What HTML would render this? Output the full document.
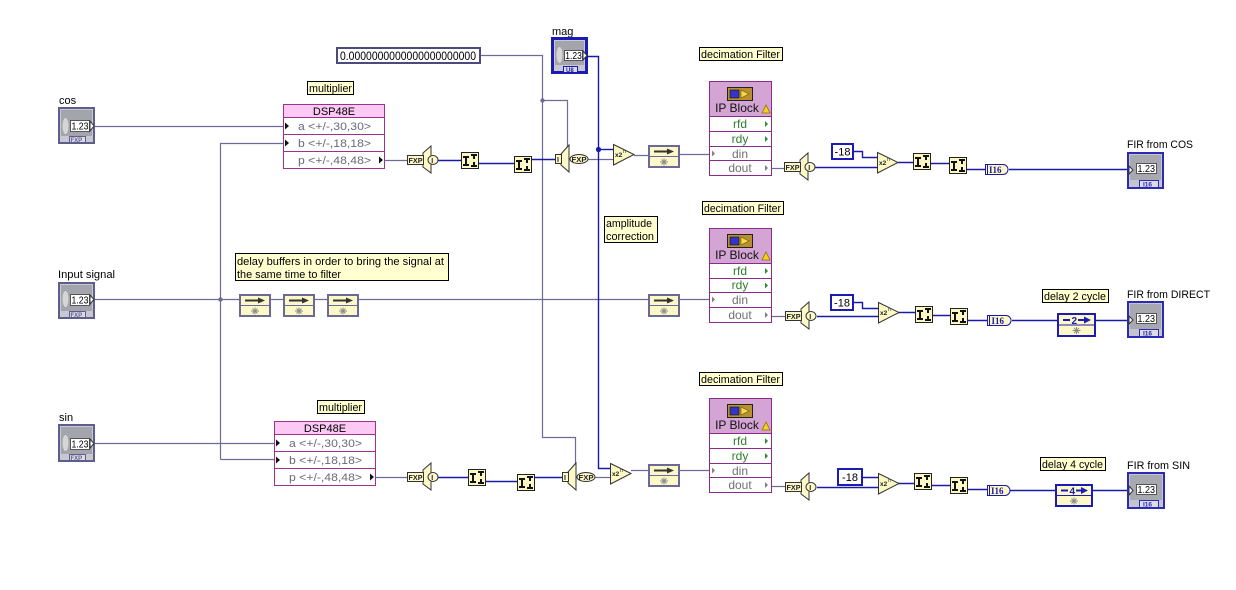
<!DOCTYPE html>
<html><head><meta charset="utf-8">
<style>
html,body{margin:0;padding:0;background:#fff;}
svg{display:block;font-family:"Liberation Sans",sans-serif;}
.g{fill:none;stroke:#6c6c96;stroke-width:1.2}
.b{fill:none;stroke:#1a1aa8;stroke-width:1.4}
.cm{fill:#ffffd0;stroke:#000;stroke-width:1}
.t11{font-size:11px;fill:#000}
.ico{fill:#fcf8c4;stroke:#222;stroke-width:1}
.k{fill:#111}
.dl{fill:#fcf8c8;stroke:#6a6a98;stroke-width:2}
.dlb{fill:#fcf8c8;stroke:#1c1cb4;stroke-width:2}
.ast{stroke:#8a8a8a;stroke-width:1}
.ip{fill:#fff;stroke:#8a2a8a;stroke-width:1}
.iph{fill:#d4a4d4;stroke:#8a2a8a;stroke-width:1}
.dsp{fill:#fff;stroke:#a0308c;stroke-width:1}
.dsph{fill:#fcc8f4;stroke:#a0308c;stroke-width:1}
.dt{font-size:11px;fill:#6a6a7a}
.grn{font-size:12px;fill:#2e7d2e}
.gry{font-size:12px;fill:#707070}
.c18{fill:#fff;stroke:#1c1cb4;stroke-width:2}
.cv{fill:#fcf8c8;stroke:#333;stroke-width:1}
.cvt{font-size:7px;font-weight:bold;fill:#222}
.i16{fill:#fcf8c8;stroke:#1a1aa6;stroke-width:1}
.i16t{font-family:"Liberation Serif",serif;font-size:9px;font-weight:bold;fill:#1a1aa6}
</style></head><body>
<svg width="1236" height="590" viewBox="0 0 1236 590" xmlns="http://www.w3.org/2000/svg">
<rect x="0" y="0" width="1236" height="590" fill="#fff"/>

<!-- ============ WIRES (gray) ============ -->
<path class="g" d="M95,126.5 H284"/>
<path class="g" d="M220.5,459.5 V143.5 H284"/>
<path class="g" d="M220.5,459.5 H275"/>
<path class="g" d="M95,299.5 H239 M270,299.5 H283 M314,299.5 H327 M358,299.5 H648 M680,299.5 H709"/>
<path class="g" d="M95,443.5 H275"/>
<path class="g" d="M385,160.5 H407"/>
<path class="g" d="M375,477.5 H407"/>
<path class="g" d="M480,55.5 H542.5 V437.5 H575.5 V464"/>
<path class="g" d="M542.5,100.5 H567.5 V148"/>
<path class="g" d="M588,159.5 H614"/>
<path class="g" d="M634,155.5 H648 M680,154.5 H709"/>
<path class="g" d="M771,168.5 H785"/>
<path class="g" d="M771,316.5 H785"/>
<path class="g" d="M595,477.5 H611"/>
<path class="g" d="M631,470.5 H648 M680,470.5 H709"/>
<path class="g" d="M771,486.5 H786"/>

<!-- ============ WIRES (blue) ============ -->
<path class="b" d="M438,160.5 H462 M478,163.5 H515 M532,159.5 H556"/>
<path class="b" d="M588,56.5 H598.5 V468.5 H612"/>
<path class="b" d="M598.5,149.5 H614"/>
<path class="b" d="M812,167.5 H878 M853,151.5 H862.5 V157.5 H878 M898,162.5 H914 M931,163.5 H950 M967,169.5 H986 M1009,169.5 H1128"/>
<path class="b" d="M817,316.5 H879 M853,302.5 H862.5 V308.5 H879 M899,312.5 H916 M933,315.5 H951 M967,320.5 H988 M1012,320.5 H1058 M1096,320.5 H1128"/>
<path class="b" d="M438,477.5 H469 M486,481.5 H518 M535,477.5 H563"/>
<path class="b" d="M817,487.5 H879 M862,477.5 H879 M898,483.5 H915 M932,485.5 H951 M967,489.5 H988 M1010,490.5 H1056 M1093,490.5 H1128"/>

<!-- junction dots -->
<circle cx="220.5" cy="299.5" r="2.2" fill="#6c6c96"/>
<circle cx="542.5" cy="100.5" r="2.2" fill="#6c6c96"/>
<circle cx="598.5" cy="149.5" r="2.6" fill="#1a1aa8"/>

<!-- ============ LABELS ============ -->
<text x="59" y="104" class="t11">cos</text>
<text x="58" y="278" class="t11" textLength="57" lengthAdjust="spacingAndGlyphs">Input signal</text>
<text x="59" y="421" class="t11">sin</text>
<text x="552" y="35" class="t11">mag</text>
<text x="1127" y="148" class="t11" textLength="66" lengthAdjust="spacingAndGlyphs">FIR from COS</text>
<text x="1127" y="298" class="t11" textLength="83" lengthAdjust="spacingAndGlyphs">FIR from DIRECT</text>
<text x="1127" y="469" class="t11" textLength="63" lengthAdjust="spacingAndGlyphs">FIR from SIN</text>

<!-- ============ COMMENTS ============ -->
<rect class="cm" x="307.5" y="81.5" width="46" height="13"/>
<text x="309" y="92" class="t11" textLength="43" lengthAdjust="spacingAndGlyphs">multiplier</text>
<rect class="cm" x="317.5" y="400.5" width="47" height="13"/>
<text x="319" y="411" class="t11" textLength="43" lengthAdjust="spacingAndGlyphs">multiplier</text>
<rect class="cm" x="699.5" y="47.5" width="83" height="13"/>
<text x="701" y="58" class="t11" textLength="79" lengthAdjust="spacingAndGlyphs">decimation Filter</text>
<rect class="cm" x="702.5" y="201.5" width="81" height="13"/>
<text x="704" y="212" class="t11" textLength="77" lengthAdjust="spacingAndGlyphs">decimation Filter</text>
<rect class="cm" x="699.5" y="372.5" width="83" height="13"/>
<text x="701" y="383" class="t11" textLength="79" lengthAdjust="spacingAndGlyphs">decimation Filter</text>
<rect class="cm" x="604.5" y="216.5" width="53" height="26"/>
<text x="606" y="227" class="t11" textLength="46" lengthAdjust="spacingAndGlyphs">amplitude</text>
<text x="606" y="240" class="t11" textLength="48" lengthAdjust="spacingAndGlyphs">correction</text>
<rect class="cm" x="235.5" y="253.5" width="213" height="27"/>
<text x="237" y="265" class="t11" textLength="207" lengthAdjust="spacingAndGlyphs">delay buffers in order to bring the signal at</text>
<text x="237" y="278" class="t11" textLength="104" lengthAdjust="spacingAndGlyphs">the same time to filter</text>
<rect class="cm" x="1042.5" y="289.5" width="66" height="13"/>
<text x="1044" y="300" class="t11" textLength="62" lengthAdjust="spacingAndGlyphs">delay 2 cycle</text>
<rect class="cm" x="1040.5" y="457.5" width="65" height="13"/>
<text x="1042" y="468" class="t11" textLength="61" lengthAdjust="spacingAndGlyphs">delay 4 cycle</text>

<!-- numeric constant -->
<rect x="337" y="48" width="143" height="15" fill="#fff" stroke="#4a4a7c" stroke-width="2"/>
<text x="340" y="60" font-size="12" fill="#000" textLength="136" lengthAdjust="spacingAndGlyphs">0.0000000000000000000000</text>

<!-- ============ CONTROLS ============ -->
<g transform="translate(58,107)">
 <rect x="1" y="1" width="35" height="35" fill="#c8c8d0" stroke="#5e5e8e" stroke-width="2"/>
 <rect x="3" y="3" width="31" height="26" fill="#a4a4ac"/>
 <ellipse cx="7.5" cy="19" rx="3" ry="8" fill="#d6d6d6"/>
 <rect x="12.5" y="13.5" width="19" height="11" fill="#fff" stroke="#555"/>
 <text x="13.5" y="22.5" font-size="10" fill="#000" textLength="17" lengthAdjust="spacingAndGlyphs">1.23</text>
 <path d="M32,14 L36,19 L32,24 Z" fill="#fff" stroke="#333"/>
 <rect x="11.5" y="29.5" width="16" height="6" fill="#dcdce4" stroke="#5e5e8e"/>
 <text x="12.5" y="35" font-size="6" font-weight="bold" fill="#5e5e8e">FXP</text>
</g>
<g transform="translate(58,282)">
 <rect x="1" y="1" width="35" height="35" fill="#c8c8d0" stroke="#5e5e8e" stroke-width="2"/>
 <rect x="3" y="3" width="31" height="26" fill="#a4a4ac"/>
 <ellipse cx="7.5" cy="17" rx="3" ry="8" fill="#d6d6d6"/>
 <rect x="12.5" y="12.5" width="19" height="11" fill="#fff" stroke="#555"/>
 <text x="13.5" y="21.5" font-size="10" fill="#000" textLength="17" lengthAdjust="spacingAndGlyphs">1.23</text>
 <path d="M32,13 L36,17.5 L32,22 Z" fill="#fff" stroke="#333"/>
 <rect x="11.5" y="29.5" width="16" height="6" fill="#dcdce4" stroke="#5e5e8e"/>
 <text x="12.5" y="35" font-size="6" font-weight="bold" fill="#5e5e8e">FXP</text>
</g>
<g transform="translate(58,424)">
 <rect x="1" y="1" width="35" height="36" fill="#c8c8d0" stroke="#5e5e8e" stroke-width="2"/>
 <rect x="3" y="3" width="31" height="27" fill="#a4a4ac"/>
 <ellipse cx="7.5" cy="19" rx="3" ry="8" fill="#d6d6d6"/>
 <rect x="12.5" y="14.5" width="19" height="11" fill="#fff" stroke="#555"/>
 <text x="13.5" y="23.5" font-size="10" fill="#000" textLength="17" lengthAdjust="spacingAndGlyphs">1.23</text>
 <path d="M32,15 L36,19.5 L32,24 Z" fill="#fff" stroke="#333"/>
 <rect x="11.5" y="30.5" width="16" height="6" fill="#dcdce4" stroke="#5e5e8e"/>
 <text x="12.5" y="36" font-size="6" font-weight="bold" fill="#5e5e8e">FXP</text>
</g>
<!-- mag -->
<g transform="translate(551,37)">
 <rect x="1.5" y="1.5" width="34" height="34" fill="#c8c8d0" stroke="#1c1cb4" stroke-width="3"/>
 <rect x="4" y="4" width="29" height="24" fill="#a4a4ac"/>
 <ellipse cx="8.5" cy="18" rx="3" ry="8" fill="#d6d6d6"/>
 <rect x="13.5" y="13.5" width="18" height="10" fill="#fff" stroke="#555"/>
 <text x="14.3" y="22" font-size="10" fill="#000" textLength="16.5" lengthAdjust="spacingAndGlyphs">1.23</text>
 <path d="M32,14 L36,18.5 L32,23 Z" fill="#fff" stroke="#333"/>
 <rect x="12.5" y="29.5" width="14" height="6" fill="#dcdce4" stroke="#1c1cb4"/>
 <text x="15" y="35" font-size="6" font-weight="bold" fill="#1c1cb4">U8</text>
</g>

<!-- ============ INDICATORS ============ -->
<g transform="translate(1127,152)">
 <rect x="1" y="1" width="35" height="35" fill="#c4c4cc" stroke="#2a2ab4" stroke-width="2"/>
 <rect x="3" y="3" width="31" height="25" fill="#a8a8b0"/>
 <path d="M2,14 L6,18 L2,22 Z" fill="#fff" stroke="#333"/>
 <rect x="9.5" y="11.5" width="20" height="10" fill="#fff" stroke="#555"/>
 <text x="10.5" y="20" font-size="10" fill="#000" textLength="17.5" lengthAdjust="spacingAndGlyphs">1.23</text>
 <rect x="12.5" y="28.5" width="19" height="7" fill="#dcdce4" stroke="#2a2ab4"/>
 <text x="16" y="34.5" font-size="6.5" font-weight="bold" fill="#2a2ab4">I16</text>
</g>
<g transform="translate(1127,301)">
 <rect x="1" y="1" width="35" height="35" fill="#c4c4cc" stroke="#2a2ab4" stroke-width="2"/>
 <rect x="3" y="3" width="31" height="25" fill="#a8a8b0"/>
 <path d="M2,15 L6,19 L2,23 Z" fill="#fff" stroke="#333"/>
 <rect x="9.5" y="12.5" width="20" height="10" fill="#fff" stroke="#555"/>
 <text x="10.5" y="21" font-size="10" fill="#000" textLength="17.5" lengthAdjust="spacingAndGlyphs">1.23</text>
 <rect x="12.5" y="28.5" width="19" height="7" fill="#dcdce4" stroke="#2a2ab4"/>
 <text x="16" y="34.5" font-size="6.5" font-weight="bold" fill="#2a2ab4">I16</text>
</g>
<g transform="translate(1127,472)">
 <rect x="1" y="1" width="36" height="35" fill="#c4c4cc" stroke="#2a2ab4" stroke-width="2"/>
 <rect x="3" y="3" width="32" height="25" fill="#a8a8b0"/>
 <path d="M2,14 L6,18.5 L2,23 Z" fill="#fff" stroke="#333"/>
 <rect x="9.5" y="12.5" width="20" height="10" fill="#fff" stroke="#555"/>
 <text x="10.5" y="21" font-size="10" fill="#000" textLength="17.5" lengthAdjust="spacingAndGlyphs">1.23</text>
 <rect x="12.5" y="28.5" width="19" height="7" fill="#dcdce4" stroke="#2a2ab4"/>
 <text x="16" y="34.5" font-size="6.5" font-weight="bold" fill="#2a2ab4">I16</text>
</g>

<!-- ============ DSP48E ============ -->
<g>
 <rect class="dsph" x="283.5" y="104.5" width="101" height="13"/>
 <rect class="dsp" x="283.5" y="117.5" width="101" height="17"/>
 <rect class="dsp" x="283.5" y="134.5" width="101" height="17"/>
 <rect class="dsp" x="283.5" y="151.5" width="101" height="17"/>
 <text x="334" y="115" font-size="11" text-anchor="middle" fill="#000">DSP48E</text>
 <text x="298" y="130" class="dt" textLength="73" lengthAdjust="spacingAndGlyphs">a &lt;+/-,30,30&gt;</text>
 <text x="298" y="147" class="dt" textLength="73" lengthAdjust="spacingAndGlyphs">b &lt;+/-,18,18&gt;</text>
 <text x="298" y="164" class="dt" textLength="73" lengthAdjust="spacingAndGlyphs">p &lt;+/-,48,48&gt;</text>
 <path d="M285,122.5 L289,126 L285,129.5 Z" fill="#111"/>
 <path d="M285,139.5 L289,143 L285,146.5 Z" fill="#111"/>
 <path d="M379,156.5 L383,160 L379,163.5 Z" fill="#111"/>
</g>
<g>
 <rect class="dsph" x="274.5" y="421.5" width="101" height="13"/>
 <rect class="dsp" x="274.5" y="434.5" width="101" height="17"/>
 <rect class="dsp" x="274.5" y="451.5" width="101" height="17"/>
 <rect class="dsp" x="274.5" y="468.5" width="101" height="17"/>
 <text x="325" y="432" font-size="11" text-anchor="middle" fill="#000">DSP48E</text>
 <text x="289" y="447" class="dt" textLength="73" lengthAdjust="spacingAndGlyphs">a &lt;+/-,30,30&gt;</text>
 <text x="289" y="464" class="dt" textLength="73" lengthAdjust="spacingAndGlyphs">b &lt;+/-,18,18&gt;</text>
 <text x="289" y="481" class="dt" textLength="73" lengthAdjust="spacingAndGlyphs">p &lt;+/-,48,48&gt;</text>
 <path d="M276,439.5 L280,443 L276,446.5 Z" fill="#111"/>
 <path d="M276,456.5 L280,460 L276,463.5 Z" fill="#111"/>
 <path d="M370,473.5 L374,477 L370,480.5 Z" fill="#111"/>
</g>

<!-- ============ IP BLOCKS ============ -->
<g transform="translate(709,81)">
 <rect class="iph" x="0.5" y="0.5" width="62" height="35"/>
 <rect class="ip" x="0.5" y="35.5" width="62" height="15"/>
 <rect class="ip" x="0.5" y="50.5" width="62" height="15"/>
 <rect class="ip" x="0.5" y="65.5" width="62" height="14"/>
 <rect class="ip" x="0.5" y="79.5" width="62" height="15"/>
 <rect x="18.5" y="6.5" width="25" height="13" fill="#b89030" stroke="#222"/>
 <rect x="21" y="9" width="9" height="8" fill="#3434c8" stroke="#111" stroke-width="0.6"/>
 <path d="M32,9 L40,13 L32,17 Z" fill="#f4d848" stroke="#6a5010" stroke-width="0.6"/>
 <text x="28" y="31" font-size="12" text-anchor="middle" fill="#111">IP Block</text>
 <path d="M57,24 L61,32 L53,32 Z" fill="#f4d020" stroke="#907000" stroke-width="0.8"/>
 <text x="31" y="47" class="grn" text-anchor="middle">rfd</text>
 <text x="31" y="62" class="grn" text-anchor="middle">rdy</text>
 <text x="31" y="77" class="gry" text-anchor="middle">din</text>
 <text x="31" y="91" class="gry" text-anchor="middle">dout</text>
 <path d="M56,40 L59,43 L56,46 Z" fill="#2e8b2e"/>
 <path d="M56,55 L59,58 L56,61 Z" fill="#2e8b2e"/>
 <path d="M3,69.5 L6,72.5 L3,75.5 Z" fill="#808080"/>
 <path d="M56,84 L59,87 L56,90 Z" fill="#808080"/>
</g>
<g transform="translate(709,228)">
 <rect class="iph" x="0.5" y="0.5" width="62" height="35"/>
 <rect class="ip" x="0.5" y="35.5" width="62" height="15"/>
 <rect class="ip" x="0.5" y="50.5" width="62" height="14"/>
 <rect class="ip" x="0.5" y="64.5" width="62" height="15"/>
 <rect class="ip" x="0.5" y="79.5" width="62" height="15"/>
 <rect x="18.5" y="6.5" width="25" height="13" fill="#b89030" stroke="#222"/>
 <rect x="21" y="9" width="9" height="8" fill="#3434c8" stroke="#111" stroke-width="0.6"/>
 <path d="M32,9 L40,13 L32,17 Z" fill="#f4d848" stroke="#6a5010" stroke-width="0.6"/>
 <text x="28" y="31" font-size="12" text-anchor="middle" fill="#111">IP Block</text>
 <path d="M57,24 L61,32 L53,32 Z" fill="#f4d020" stroke="#907000" stroke-width="0.8"/>
 <text x="31" y="47" class="grn" text-anchor="middle">rfd</text>
 <text x="31" y="61" class="grn" text-anchor="middle">rdy</text>
 <text x="31" y="76" class="gry" text-anchor="middle">din</text>
 <text x="31" y="91" class="gry" text-anchor="middle">dout</text>
 <path d="M56,40 L59,43 L56,46 Z" fill="#2e8b2e"/>
 <path d="M56,54.5 L59,57.5 L56,60.5 Z" fill="#2e8b2e"/>
 <path d="M3,68.5 L6,71.5 L3,74.5 Z" fill="#808080"/>
 <path d="M56,84 L59,87 L56,90 Z" fill="#808080"/>
</g>
<g transform="translate(709,398)">
 <rect class="iph" x="0.5" y="0.5" width="62" height="35"/>
 <rect class="ip" x="0.5" y="35.5" width="62" height="15"/>
 <rect class="ip" x="0.5" y="50.5" width="62" height="15"/>
 <rect class="ip" x="0.5" y="65.5" width="62" height="14"/>
 <rect class="ip" x="0.5" y="79.5" width="62" height="15"/>
 <rect x="18.5" y="6.5" width="25" height="13" fill="#b89030" stroke="#222"/>
 <rect x="21" y="9" width="9" height="8" fill="#3434c8" stroke="#111" stroke-width="0.6"/>
 <path d="M32,9 L40,13 L32,17 Z" fill="#f4d848" stroke="#6a5010" stroke-width="0.6"/>
 <text x="28" y="31" font-size="12" text-anchor="middle" fill="#111">IP Block</text>
 <path d="M57,24 L61,32 L53,32 Z" fill="#f4d020" stroke="#907000" stroke-width="0.8"/>
 <text x="31" y="47" class="grn" text-anchor="middle">rfd</text>
 <text x="31" y="62" class="grn" text-anchor="middle">rdy</text>
 <text x="31" y="77" class="gry" text-anchor="middle">din</text>
 <text x="31" y="91" class="gry" text-anchor="middle">dout</text>
 <path d="M56,40 L59,43 L56,46 Z" fill="#2e8b2e"/>
 <path d="M56,55 L59,58 L56,61 Z" fill="#2e8b2e"/>
 <path d="M3,69.5 L6,72.5 L3,75.5 Z" fill="#808080"/>
 <path d="M56,84 L59,87 L56,90 Z" fill="#808080"/>
</g>

<!-- ============ FXP -> I converters ============ -->
<g transform="translate(407,160)">
 <path class="cv" d="M16,-7 L24,-14 L24,13 L16,7 Z"/>
 <rect class="cv" x="0.5" y="-4.5" width="16" height="9"/>
 <text x="1.5" y="3" class="cvt" textLength="14" lengthAdjust="spacingAndGlyphs">FXP</text>
 <ellipse class="cv" cx="26" cy="0" rx="5" ry="4.5"/>
 <text x="24.3" y="3" class="cvt">I</text>
</g>
<g transform="translate(407,477)">
 <path class="cv" d="M16,-7 L24,-14 L24,13 L16,7 Z"/>
 <rect class="cv" x="0.5" y="-4.5" width="16" height="9"/>
 <text x="1.5" y="3" class="cvt" textLength="14" lengthAdjust="spacingAndGlyphs">FXP</text>
 <ellipse class="cv" cx="26" cy="0" rx="5" ry="4.5"/>
 <text x="24.3" y="3" class="cvt">I</text>
</g>
<g transform="translate(784,167)">
 <path class="cv" d="M16,-7 L24,-14 L24,13 L16,7 Z"/>
 <rect class="cv" x="0.5" y="-4.5" width="16" height="9"/>
 <text x="1.5" y="3" class="cvt" textLength="14" lengthAdjust="spacingAndGlyphs">FXP</text>
 <ellipse class="cv" cx="26" cy="0" rx="5" ry="4.5"/>
 <text x="24.3" y="3" class="cvt">I</text>
</g>
<g transform="translate(785,316)">
 <path class="cv" d="M16,-7 L24,-14 L24,13 L16,7 Z"/>
 <rect class="cv" x="0.5" y="-4.5" width="16" height="9"/>
 <text x="1.5" y="3" class="cvt" textLength="14" lengthAdjust="spacingAndGlyphs">FXP</text>
 <ellipse class="cv" cx="26" cy="0" rx="5" ry="4.5"/>
 <text x="24.3" y="3" class="cvt">I</text>
</g>
<g transform="translate(785,487)">
 <path class="cv" d="M16,-7 L24,-14 L24,13 L16,7 Z"/>
 <rect class="cv" x="0.5" y="-4.5" width="16" height="9"/>
 <text x="1.5" y="3" class="cvt" textLength="14" lengthAdjust="spacingAndGlyphs">FXP</text>
 <ellipse class="cv" cx="26" cy="0" rx="5" ry="4.5"/>
 <text x="24.3" y="3" class="cvt">I</text>
</g>

<!-- ============ I -> FXP converters ============ -->
<g transform="translate(555,159)">
 <path class="cv" d="M6,-5 L14,-14 L14,13 L6,6 Z"/>
 <rect class="cv" x="0.5" y="-4.5" width="6" height="9"/>
 <text x="2" y="3" class="cvt">I</text>
 <ellipse class="cv" cx="24" cy="0" rx="9" ry="4.5"/>
 <text x="16.5" y="3" class="cvt" textLength="15" lengthAdjust="spacingAndGlyphs">FXP</text>
</g>
<g transform="translate(562,477)">
 <path class="cv" d="M6,-5 L14,-14 L14,13 L6,6 Z"/>
 <rect class="cv" x="0.5" y="-4.5" width="6" height="9"/>
 <text x="2" y="3" class="cvt">I</text>
 <ellipse class="cv" cx="24" cy="0" rx="9" ry="4.5"/>
 <text x="16.5" y="3" class="cvt" textLength="15" lengthAdjust="spacingAndGlyphs">FXP</text>
</g>

<!-- ============ I-I icons ============ -->
<g transform="translate(461,152)"><rect class="ico" x="0.5" y="0.5" width="17" height="16"/><rect class="k" x="2" y="4" width="6" height="2"/><rect class="k" x="4" y="4" width="2" height="9"/><rect class="k" x="2" y="12" width="6" height="2"/><rect class="k" x="10" y="2" width="6" height="2"/><rect class="k" x="12" y="2" width="2" height="5"/><rect class="k" x="12" y="10" width="2" height="5"/><rect class="k" x="10" y="13" width="6" height="2"/></g>
<g transform="translate(514,156)"><rect class="ico" x="0.5" y="0.5" width="17" height="16"/><rect class="k" x="2" y="4" width="6" height="2"/><rect class="k" x="4" y="4" width="2" height="9"/><rect class="k" x="2" y="12" width="6" height="2"/><rect class="k" x="10" y="2" width="6" height="2"/><rect class="k" x="12" y="2" width="2" height="5"/><rect class="k" x="12" y="10" width="2" height="5"/><rect class="k" x="10" y="13" width="6" height="2"/></g>
<g transform="translate(913,153)"><rect class="ico" x="0.5" y="0.5" width="17" height="16"/><rect class="k" x="2" y="4" width="6" height="2"/><rect class="k" x="4" y="4" width="2" height="9"/><rect class="k" x="2" y="12" width="6" height="2"/><rect class="k" x="10" y="2" width="6" height="2"/><rect class="k" x="12" y="2" width="2" height="5"/><rect class="k" x="12" y="10" width="2" height="5"/><rect class="k" x="10" y="13" width="6" height="2"/></g>
<g transform="translate(949,157)"><rect class="ico" x="0.5" y="0.5" width="17" height="16"/><rect class="k" x="2" y="4" width="6" height="2"/><rect class="k" x="4" y="4" width="2" height="9"/><rect class="k" x="2" y="12" width="6" height="2"/><rect class="k" x="10" y="2" width="6" height="2"/><rect class="k" x="12" y="2" width="2" height="5"/><rect class="k" x="12" y="10" width="2" height="5"/><rect class="k" x="10" y="13" width="6" height="2"/></g>
<g transform="translate(915,306)"><rect class="ico" x="0.5" y="0.5" width="17" height="16"/><rect class="k" x="2" y="4" width="6" height="2"/><rect class="k" x="4" y="4" width="2" height="9"/><rect class="k" x="2" y="12" width="6" height="2"/><rect class="k" x="10" y="2" width="6" height="2"/><rect class="k" x="12" y="2" width="2" height="5"/><rect class="k" x="12" y="10" width="2" height="5"/><rect class="k" x="10" y="13" width="6" height="2"/></g>
<g transform="translate(950,308)"><rect class="ico" x="0.5" y="0.5" width="17" height="16"/><rect class="k" x="2" y="4" width="6" height="2"/><rect class="k" x="4" y="4" width="2" height="9"/><rect class="k" x="2" y="12" width="6" height="2"/><rect class="k" x="10" y="2" width="6" height="2"/><rect class="k" x="12" y="2" width="2" height="5"/><rect class="k" x="12" y="10" width="2" height="5"/><rect class="k" x="10" y="13" width="6" height="2"/></g>
<g transform="translate(468,469)"><rect class="ico" x="0.5" y="0.5" width="17" height="16"/><rect class="k" x="2" y="4" width="6" height="2"/><rect class="k" x="4" y="4" width="2" height="9"/><rect class="k" x="2" y="12" width="6" height="2"/><rect class="k" x="10" y="2" width="6" height="2"/><rect class="k" x="12" y="2" width="2" height="5"/><rect class="k" x="12" y="10" width="2" height="5"/><rect class="k" x="10" y="13" width="6" height="2"/></g>
<g transform="translate(517,474)"><rect class="ico" x="0.5" y="0.5" width="17" height="16"/><rect class="k" x="2" y="4" width="6" height="2"/><rect class="k" x="4" y="4" width="2" height="9"/><rect class="k" x="2" y="12" width="6" height="2"/><rect class="k" x="10" y="2" width="6" height="2"/><rect class="k" x="12" y="2" width="2" height="5"/><rect class="k" x="12" y="10" width="2" height="5"/><rect class="k" x="10" y="13" width="6" height="2"/></g>
<g transform="translate(914,473)"><rect class="ico" x="0.5" y="0.5" width="17" height="16"/><rect class="k" x="2" y="4" width="6" height="2"/><rect class="k" x="4" y="4" width="2" height="9"/><rect class="k" x="2" y="12" width="6" height="2"/><rect class="k" x="10" y="2" width="6" height="2"/><rect class="k" x="12" y="2" width="2" height="5"/><rect class="k" x="12" y="10" width="2" height="5"/><rect class="k" x="10" y="13" width="6" height="2"/></g>
<g transform="translate(950,477)"><rect class="ico" x="0.5" y="0.5" width="17" height="16"/><rect class="k" x="2" y="4" width="6" height="2"/><rect class="k" x="4" y="4" width="2" height="9"/><rect class="k" x="2" y="12" width="6" height="2"/><rect class="k" x="10" y="2" width="6" height="2"/><rect class="k" x="12" y="2" width="2" height="5"/><rect class="k" x="12" y="10" width="2" height="5"/><rect class="k" x="10" y="13" width="6" height="2"/></g>

<!-- ============ x2^n triangles ============ -->
<g transform="translate(613,144)"><path d="M0.5,0.5 L21,10.5 L0.5,21 Z" fill="#fcf8c4" stroke="#333"/><text x="2" y="13" font-size="6.5" font-weight="bold" fill="#222">x2</text><text x="10" y="9" font-size="5" fill="#222">n</text></g>
<g transform="translate(877,152)"><path d="M0.5,0.5 L21,10.5 L0.5,21 Z" fill="#fcf8c4" stroke="#333"/><text x="2" y="13" font-size="6.5" font-weight="bold" fill="#222">x2</text><text x="10" y="9" font-size="5" fill="#222">n</text></g>
<g transform="translate(878,302)"><path d="M0.5,0.5 L21,10.5 L0.5,21 Z" fill="#fcf8c4" stroke="#333"/><text x="2" y="13" font-size="6.5" font-weight="bold" fill="#222">x2</text><text x="10" y="9" font-size="5" fill="#222">n</text></g>
<g transform="translate(610,463)"><path d="M0.5,0.5 L21,10.5 L0.5,21 Z" fill="#fcf8c4" stroke="#333"/><text x="2" y="13" font-size="6.5" font-weight="bold" fill="#222">x2</text><text x="10" y="9" font-size="5" fill="#222">n</text></g>
<g transform="translate(878,473)"><path d="M0.5,0.5 L21,10.5 L0.5,21 Z" fill="#fcf8c4" stroke="#333"/><text x="2" y="13" font-size="6.5" font-weight="bold" fill="#222">x2</text><text x="10" y="9" font-size="5" fill="#222">n</text></g>

<!-- ============ Delay boxes (gray) ============ -->
<g transform="translate(239,294)"><rect class="dl" x="1" y="1" width="30" height="21"/><line x1="1" y1="11.5" x2="31" y2="11.5" stroke="#6a6a98"/><line x1="6" y1="6.5" x2="21" y2="6.5" stroke="#333" stroke-width="2"/><path d="M19,3.5 L26,6.5 L19,9.5 Z" fill="#333"/><path class="ast" d="M12,17 H20 M16,13.5 V20.5 M13.5,14.5 L18.5,19.5 M18.5,14.5 L13.5,19.5"/></g>
<g transform="translate(283,294)"><rect class="dl" x="1" y="1" width="30" height="21"/><line x1="1" y1="11.5" x2="31" y2="11.5" stroke="#6a6a98"/><line x1="6" y1="6.5" x2="21" y2="6.5" stroke="#333" stroke-width="2"/><path d="M19,3.5 L26,6.5 L19,9.5 Z" fill="#333"/><path class="ast" d="M12,17 H20 M16,13.5 V20.5 M13.5,14.5 L18.5,19.5 M18.5,14.5 L13.5,19.5"/></g>
<g transform="translate(327,294)"><rect class="dl" x="1" y="1" width="30" height="21"/><line x1="1" y1="11.5" x2="31" y2="11.5" stroke="#6a6a98"/><line x1="6" y1="6.5" x2="21" y2="6.5" stroke="#333" stroke-width="2"/><path d="M19,3.5 L26,6.5 L19,9.5 Z" fill="#333"/><path class="ast" d="M12,17 H20 M16,13.5 V20.5 M13.5,14.5 L18.5,19.5 M18.5,14.5 L13.5,19.5"/></g>
<g transform="translate(648,145)"><rect class="dl" x="1" y="1" width="30" height="21"/><line x1="1" y1="11.5" x2="31" y2="11.5" stroke="#6a6a98"/><line x1="6" y1="6.5" x2="21" y2="6.5" stroke="#333" stroke-width="2"/><path d="M19,3.5 L26,6.5 L19,9.5 Z" fill="#333"/><path class="ast" d="M12,17 H20 M16,13.5 V20.5 M13.5,14.5 L18.5,19.5 M18.5,14.5 L13.5,19.5"/></g>
<g transform="translate(648,294)"><rect class="dl" x="1" y="1" width="30" height="21"/><line x1="1" y1="11.5" x2="31" y2="11.5" stroke="#6a6a98"/><line x1="6" y1="6.5" x2="21" y2="6.5" stroke="#333" stroke-width="2"/><path d="M19,3.5 L26,6.5 L19,9.5 Z" fill="#333"/><path class="ast" d="M12,17 H20 M16,13.5 V20.5 M13.5,14.5 L18.5,19.5 M18.5,14.5 L13.5,19.5"/></g>
<g transform="translate(648,464)"><rect class="dl" x="1" y="1" width="30" height="21"/><line x1="1" y1="11.5" x2="31" y2="11.5" stroke="#6a6a98"/><line x1="6" y1="6.5" x2="21" y2="6.5" stroke="#333" stroke-width="2"/><path d="M19,3.5 L26,6.5 L19,9.5 Z" fill="#333"/><path class="ast" d="M12,17 H20 M16,13.5 V20.5 M13.5,14.5 L18.5,19.5 M18.5,14.5 L13.5,19.5"/></g>

<!-- ============ Delay with count (blue) ============ -->
<g transform="translate(1057,313)"><rect class="dlb" x="1" y="1" width="37" height="22"/><line x1="1" y1="12" x2="38" y2="12" stroke="#1c1cb4"/><line x1="6" y1="7" x2="13" y2="7" stroke="#1c1cb4" stroke-width="2"/><text x="14.5" y="11" font-size="10" font-weight="bold" fill="#1c1cb4">2</text><line x1="21" y1="7" x2="29" y2="7" stroke="#1c1cb4" stroke-width="2"/><path d="M27,3.5 L34,7 L27,10.5 Z" fill="#1c1cb4"/><path class="ast" d="M15.5,17.5 H23.5 M19.5,14 V21 M17,15 L22,20 M22,15 L17,20"/></g>
<g transform="translate(1055,484)"><rect class="dlb" x="1" y="1" width="36" height="21"/><line x1="1" y1="11.5" x2="37" y2="11.5" stroke="#1c1cb4"/><line x1="6" y1="6.5" x2="13" y2="6.5" stroke="#1c1cb4" stroke-width="2"/><text x="14.5" y="10.5" font-size="10" font-weight="bold" fill="#1c1cb4">4</text><line x1="21" y1="6.5" x2="28" y2="6.5" stroke="#1c1cb4" stroke-width="2"/><path d="M26,3 L33,6.5 L26,10 Z" fill="#1c1cb4"/><path class="ast" d="M15,17 H23 M19,13.5 V20.5 M16.5,14.5 L21.5,19.5 M21.5,14.5 L16.5,19.5"/></g>

<!-- ============ -18 constants ============ -->
<rect class="c18" x="832" y="144" width="21" height="15"/>
<text x="842.5" y="155.5" font-size="11" text-anchor="middle" fill="#000">-18</text>
<rect class="c18" x="831" y="295" width="22" height="15"/>
<text x="842" y="306.5" font-size="11" text-anchor="middle" fill="#000">-18</text>
<rect class="c18" x="838" y="469" width="24" height="16"/>
<text x="850" y="481" font-size="11" text-anchor="middle" fill="#000">-18</text>

<!-- ============ I16 tags ============ -->
<g transform="translate(985,164)"><path class="i16" d="M0.5,0.5 H18 A5,5 0 0 1 18,10.5 H0.5 Z"/><line x1="2.5" y1="0.5" x2="2.5" y2="10.5" stroke="#1a1aa6"/><text x="4" y="9" class="i16t">I16</text></g>
<g transform="translate(987,315)"><path class="i16" d="M0.5,0.5 H19 A5,5 0 0 1 19,10.5 H0.5 Z"/><line x1="2.5" y1="0.5" x2="2.5" y2="10.5" stroke="#1a1aa6"/><text x="4.5" y="9" class="i16t">I16</text></g>
<g transform="translate(987,485)"><path class="i16" d="M0.5,0.5 H18 A5,5 0 0 1 18,10.5 H0.5 Z"/><line x1="2.5" y1="0.5" x2="2.5" y2="10.5" stroke="#1a1aa6"/><text x="4" y="9" class="i16t">I16</text></g>

</svg>
</body></html>
